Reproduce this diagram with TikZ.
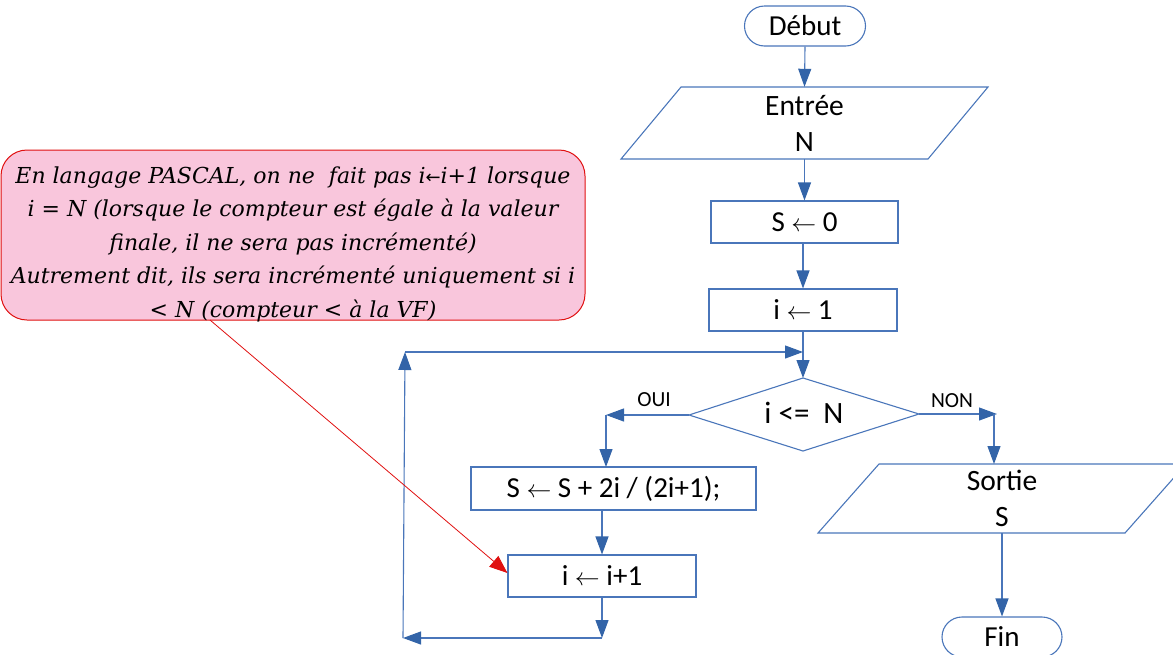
\documentclass[tikz,border=0pt]{standalone}
\usepackage{fontspec}
\setmainfont{Carlito}
\newfontfamily\arrfont{DejaVu Sans}
\newfontfamily\callfont{DejaVu Serif}
\usetikzlibrary{arrows.meta,calc}
\definecolor{lineblue}{HTML}{4A76BA}
\definecolor{tipblue}{HTML}{3364A8}
\definecolor{callpink}{HTML}{F9C6DC}
\definecolor{callred}{HTML}{E01010}
\newcommand{\la}{{\fontsize{30}{30}\selectfont$\leftarrow$}}
\tikzset{
  flow/.style={draw=lineblue, line width=1.1pt, -{Triangle[length=18pt,width=13pt,fill=tipblue,color=tipblue]}},
  plain/.style={draw=lineblue, line width=1.1pt},
  boxnode/.style={draw=lineblue, line width=1.1pt, fill=white, font=\fontsize{29}{34}\selectfont, inner sep=0pt},
  termnode/.style={boxnode, rounded corners=20pt},
  lbl/.style={font=\fontsize{21.5}{24}\selectfont, inner sep=0pt},
}
\begin{document}
\begin{tikzpicture}[x=1pt,y=-1pt]
\useasboundingbox (0,0) rectangle (1173,654);
% callout
\draw[draw=callred, fill=callpink, line width=1pt, rounded corners=26pt] (1,150) rectangle (585,320);
\node[font=\callfont\itshape\fontsize{22}{33.5}\selectfont, align=center, inner sep=0pt] (call) at (293,244)
 {En langage PASCAL, on ne\ \ fait pas i{\arrfont\fontsize{18}{18}\selectfont ←}i+1 lorsque\\
  i = N (lorsque le compteur est égale à la valeur\\
  finale, il ne sera pas incrémenté)\\
  Autrement dit, ils sera incrémenté uniquement si i\\
  < N (compteur < à la VF)};
\coordinate (callfoot) at (210,320);

% start
\node[termnode, minimum width=121pt, minimum height=40pt] (debut) at (805,26) {Début};
% input parallelogram
\draw[plain] (681,87) -- (988,87) -- (928,159) -- (621,159) -- cycle;
\node[inner sep=0pt, minimum width=247pt, minimum height=72pt, align=center, font=\fontsize{29.5}{36}\selectfont] (entree) at (804.5,123) {Entrée\\N};
% assignments
\node[boxnode, minimum width=187pt, minimum height=42pt] (s0) at (804.5,222) {S \la{} 0};
\node[boxnode, minimum width=188pt, minimum height=42pt] (i1) at (803,310) {i \la{} 1};
% decision
\coordinate (dt) at (803,378);
\coordinate (dl) at (689,415);
\coordinate (db) at (803,451);
\coordinate (dr) at (919,414);
\draw[plain] (dt) -- (dr) -- (db) -- (dl) -- cycle;
\node[inner sep=0pt, font=\fontsize{31}{31}\selectfont] (dec) at (804,413) {i <=\ \ N};
% loop body
\node[boxnode, minimum width=285pt, minimum height=43pt] (sbox) at (613.5,488.5) {S \la{} S + 2i / (2i+1);};
\node[boxnode, minimum width=188pt, minimum height=42pt] (iinc) at (602,576) {i \la{} i+1};
% output parallelogram
\draw[plain] (879,464) -- (1186,464) -- (1125,533) -- (818,533) -- cycle;
\node[inner sep=0pt, minimum width=247pt, minimum height=69pt, align=center, font=\fontsize{29.5}{36}\selectfont] (sortie) at (1002,498.5) {Sortie\\S};
% end
\node[termnode, minimum width=120pt, minimum height=40pt] (fin) at (1002,637) {Fin};

% coordinates for routing
\coordinate (loopin) at (803,352);
\coordinate (loopl) at (405,352);
\coordinate (loopbl) at (403,638);
\coordinate (loopb) at (602,638);
\coordinate (ouic) at (606,415);
\coordinate (sboxin) at (606,467);
\coordinate (nonc) at (997,414);
\coordinate (nonv) at (994,414);
\coordinate (sortin) at (994,464);

% connectors
\draw[flow] (debut.south) -- (entree.north);
\draw[flow] (entree.south) -- (s0.north);
\draw[flow] ($(s0.south)+(-1.5,0)$) -- (i1.north);
\draw[flow] (i1.south) -- (dt);
\draw[flow] (loopl) -- (loopin);
\draw[flow] (dl) -- (ouic);
\draw[flow] (ouic) -- (sboxin);
\draw[flow] (sbox.south -| iinc) -- (iinc.north);
\draw[flow] (iinc.south) -- (loopb);
\draw[flow] (loopb) -- (loopbl);
\draw[flow] (loopbl) -- (loopl);
\draw[flow] (dr) -- (nonc);
\draw[flow] (nonv) -- (sortin);
\draw[flow] (sortie.south) -- (fin.north);

% labels
\node[lbl] (oui) at (654,400) {OUI};
\node[lbl] (non) at (952,401) {NON};

% red pointer
\draw[draw=callred, line width=0.8pt, -{Triangle[length=18pt,width=14pt,fill=callred,color=callred]}] (callfoot) -- ($(iinc.west)+(0,-3)$);
\end{tikzpicture}
\end{document}
